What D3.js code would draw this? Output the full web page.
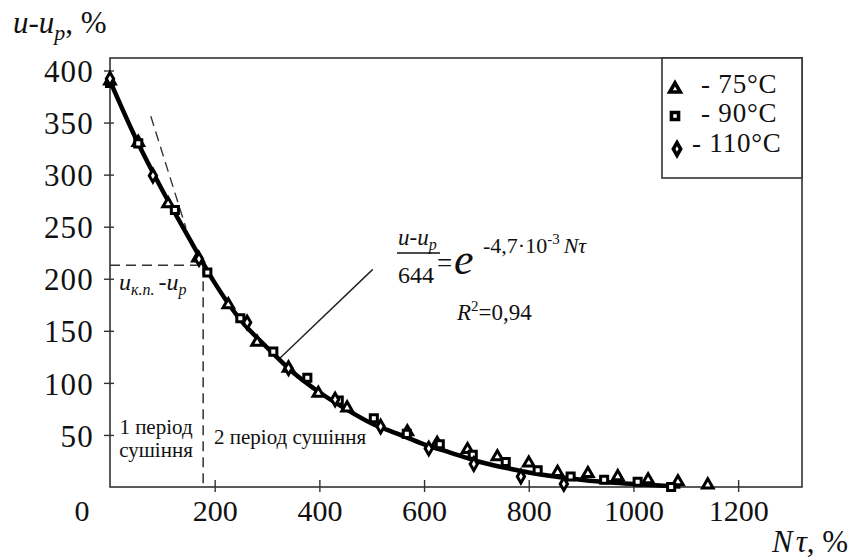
<!DOCTYPE html>
<html>
<head>
<meta charset="utf-8">
<script src="https://cdn.jsdelivr.net/npm/d3@7"></script>
<style>
  html, body { margin: 0; padding: 0; background: #fff; }
  svg text { font-family: "Liberation Serif", "DejaVu Serif", serif; fill: #111; }
</style>
</head>
<body>
<div id="chart"></div>
<script>
// ============================================================================
// Drying curve: u - u_p versus N*tau, three drying temperatures + fitted line
// ============================================================================

// 75°C (triangles)
const t75X = [0, 54, 111, 168, 226, 281, 341, 398, 453, 568, 625, 683, 740, 800, 855, 913, 970, 1028, 1085, 1142];
const t75Y = [390, 331, 272, 220, 175, 139, 114, 90, 76, 53, 42, 36, 29, 23, 14, 13, 10, 7, 5, 2];

// 90°C (squares)
const t90X = [0, 54, 124, 186, 249, 312, 377, 437, 504, 567, 630, 693, 756, 817, 880, 944, 1008, 1072];
const t90Y = [388, 330, 266, 206, 162, 130, 105, 83, 66, 51, 41, 31, 24, 16, 10, 7, 5, 0];

// 110°C (diamonds)
const t110X = [0, 82, 170, 262, 341, 430, 517, 609, 695, 785, 867];
const t110Y = [392, 299, 219, 158, 114, 84, 58, 37, 22, 10, 3];

// fitted curve
const fitX = [0, 50, 100, 150, 200, 250, 300, 350, 400, 450, 500, 550, 600, 650, 700, 750, 800, 850, 900, 950, 1000, 1050, 1090];
const fitY = [390, 334, 285, 240, 196, 160, 134, 110, 91, 75, 61, 51, 41, 33, 25, 19, 14, 10, 7, 4.5, 3, 1.5, 0.5];

const xTicks = [200, 400, 600, 800, 1000, 1200];
const yTicks = [50, 100, 150, 200, 250, 300, 350, 400];

const legendLabels = ['- 75°C', '- 90°C', '- 110°C'];

// period boundary and tangent guide
const critX = 178, critY = 213;
const tangentX = [78, 145], tangentY = [356, 249];
const leaderX = [325, 502], leaderY = [124, 209];

const width = 858, height = 558;
const FONT = '"Liberation Serif", "DejaVu Serif", serif';
const AXIS = '#333';

const svg = d3.select('#chart').append('svg')
    .attr('width', width)
    .attr('height', height)
    .attr('font-family', FONT);

const xScale = d3.scaleLinear().domain([0, 1322]).range([110, 802]);
const yScale = d3.scaleLinear().domain([0, 412]).range([487, 58]);

// frame
svg.append('rect')
    .attr('x', xScale(0)).attr('y', yScale(412))
    .attr('width', xScale(1322) - xScale(0))
    .attr('height', yScale(0) - yScale(412))
    .attr('fill', 'none')
    .attr('stroke', AXIS)
    .attr('stroke-width', 1.6);

// axes
const yAxis = svg.append('g')
    .attr('transform', `translate(${xScale(0)},0)`)
    .call(d3.axisLeft(yScale).tickValues(yTicks).tickFormat(d3.format('d')).tickSize(6))
    .attr('font-family', FONT);
yAxis.select('.domain').remove();
yAxis.selectAll('.tick line').attr('x1', 4).attr('x2', -6).attr('stroke', AXIS).attr('stroke-width', 1.4);
yAxis.selectAll('.tick text')
    .attr('x', -16).attr('dy', '0.36em')
    .attr('font-family', FONT)
    .style('font-size', '31px').style('letter-spacing', '1.2px')
    .attr('fill', '#111');

const xAxis = svg.append('g')
    .attr('transform', `translate(0,${yScale(0)})`)
    .call(d3.axisBottom(xScale).tickValues(xTicks).tickFormat(d3.format('d')).tickSize(6))
    .attr('font-family', FONT);
xAxis.select('.domain').remove();
xAxis.selectAll('.tick line').attr('y1', -7).attr('y2', 5).attr('stroke', AXIS).attr('stroke-width', 1.4);
xAxis.selectAll('.tick text')
    .attr('y', 34).attr('dy', 0)
    .attr('font-family', FONT)
    .style('font-size', '30px')
    .attr('fill', '#111');

// origin label sits off in the corner
svg.append('text')
    .attr('x', xScale(0) - 28).attr('y', yScale(0) + 34)
    .attr('text-anchor', 'middle')
    .style('font-size', '30px')
    .text('0');

// axis titles
const yTitle = svg.append('text').attr('x', 13).attr('y', 33).style('font-size', '31px');
yTitle.append('tspan').style('font-style', 'italic').text('u-u');
yTitle.append('tspan').style('font-style', 'italic').style('font-size', '22px').attr('dy', 7).text('p');
yTitle.append('tspan').attr('dy', -7).text(', %');

const xTitle = svg.append('text').attr('x', 772).attr('y', 552).style('font-size', '31px');
xTitle.append('tspan').style('font-style', 'italic').text('N');
xTitle.append('tspan').style('font-style', 'italic').attr('dx', 3).text('τ');
xTitle.append('tspan').text(', %');

// dashed guides
const dash = '10,6';
svg.append('line')
    .attr('x1', xScale(0)).attr('x2', xScale(critX))
    .attr('y1', yScale(critY)).attr('y2', yScale(critY))
    .attr('stroke', AXIS).attr('stroke-width', 1.5).attr('stroke-dasharray', dash);
svg.append('line')
    .attr('x1', xScale(critX)).attr('x2', xScale(critX))
    .attr('y1', yScale(critY)).attr('y2', yScale(0))
    .attr('stroke', AXIS).attr('stroke-width', 1.5).attr('stroke-dasharray', dash);
svg.append('line')
    .attr('x1', xScale(tangentX[0])).attr('x2', xScale(tangentX[1]))
    .attr('y1', yScale(tangentY[0])).attr('y2', yScale(tangentY[1]))
    .attr('stroke', AXIS).attr('stroke-width', 1.4).attr('stroke-dasharray', dash);

// leader line to the formula
svg.append('line')
    .attr('x1', xScale(leaderX[0])).attr('x2', xScale(leaderX[1]))
    .attr('y1', yScale(leaderY[0])).attr('y2', yScale(leaderY[1]))
    .attr('stroke', '#222').attr('stroke-width', 1.4);

// fitted curve
const fitData = fitX.map((x, i) => ({ x, y: fitY[i] }));
svg.append('path')
    .datum(fitData)
    .attr('fill', 'none')
    .attr('stroke', '#000')
    .attr('stroke-width', 4.5)
    .attr('d', d3.line().x(d => xScale(d.x)).y(d => yScale(d.y)).curve(d3.curveMonotoneX));

// markers
const series = [
    { xs: t75X, ys: t75Y, type: d3.symbolTriangle, size: 48 },
    { xs: t90X, ys: t90Y, type: d3.symbolSquare, size: 50 },
    { xs: t110X, ys: t110Y, type: d3.symbolDiamond, size: 46 }
];

series.forEach(s => {
    const pts = s.xs.map((x, i) => ({ x, y: s.ys[i] }));
    svg.append('g').selectAll('path')
        .data(pts)
        .join('path')
        .attr('transform', d => `translate(${xScale(d.x)},${yScale(d.y)})`)
        .attr('d', d3.symbol().type(s.type).size(s.size))
        .attr('fill', '#fff')
        .attr('stroke', '#000')
        .attr('stroke-width', 3);
});

// legend
svg.append('rect')
    .attr('x', 662).attr('y', 58)
    .attr('width', 140).attr('height', 120)
    .attr('fill', '#fff')
    .attr('stroke', AXIS).attr('stroke-width', 1.6);

const legendRows = [
    { mx: 675, my: 89, tx: 701, ty: 93 },
    { mx: 675, my: 116, tx: 701, ty: 122 },
    { mx: 677, my: 149, tx: 692, ty: 152 }
];
legendRows.forEach((r, i) => {
    svg.append('path')
        .attr('transform', `translate(${r.mx},${r.my})`)
        .attr('d', d3.symbol().type(series[i].type).size(series[i].size))
        .attr('fill', '#fff')
        .attr('stroke', '#000')
        .attr('stroke-width', 3.6);
    svg.append('text')
        .attr('x', r.tx).attr('y', r.ty)
        .style('font-size', '27px')
        .style('letter-spacing', '0.8px')
        .text(legendLabels[i]);
});

// formula
const num = svg.append('text').attr('x', 398).attr('y', 245).style('font-size', '23px');
num.append('tspan').style('font-style', 'italic').text('u-u');
num.append('tspan').style('font-style', 'italic').style('font-size', '16px').attr('dy', 5).text('p');
svg.append('line')
    .attr('x1', 397).attr('x2', 440).attr('y1', 253).attr('y2', 253)
    .attr('stroke', '#111').attr('stroke-width', 1.3);
svg.append('text').attr('x', 398).attr('y', 283).style('font-size', '24px').text('644');
svg.append('text').attr('x', 437).attr('y', 272).style('font-size', '27px').text('=');
svg.append('text').attr('x', 454).attr('y', 274).style('font-size', '44px').style('font-style', 'italic').text('e');

const expo = svg.append('text').attr('x', 483).attr('y', 253).style('font-size', '22px');
expo.append('tspan').text('-4,7·10');
expo.append('tspan').style('font-size', '15px').attr('dy', -9).text('-3');
expo.append('tspan').style('font-style', 'italic').attr('dy', 9).attr('dx', 4).text('Nτ');

const r2 = svg.append('text').attr('x', 457).attr('y', 320).style('font-size', '23px');
r2.append('tspan').style('font-style', 'italic').text('R');
r2.append('tspan').style('font-size', '15px').attr('dy', -9).text('2');
r2.append('tspan').attr('dy', 9).text('=0,94');

// critical moisture label
const crit = svg.append('text').attr('x', 119).attr('y', 290).style('font-size', '24px').style('font-style', 'italic');
crit.append('tspan').text('u');
crit.append('tspan').style('font-size', '16px').attr('dy', 5).text('к.п.');
crit.append('tspan').attr('dy', -5).attr('dx', 4).text('-u');
crit.append('tspan').style('font-size', '16px').attr('dy', 5).text('p');

// period labels
svg.append('text').attr('x', 156).attr('y', 434).attr('text-anchor', 'middle').style('font-size', '21px').text('1 період');
svg.append('text').attr('x', 156).attr('y', 457).attr('text-anchor', 'middle').style('font-size', '21px').text('сушіння');
svg.append('text').attr('x', 214).attr('y', 444).style('font-size', '21px').text('2 період сушіння');
</script>
</body>
</html>
